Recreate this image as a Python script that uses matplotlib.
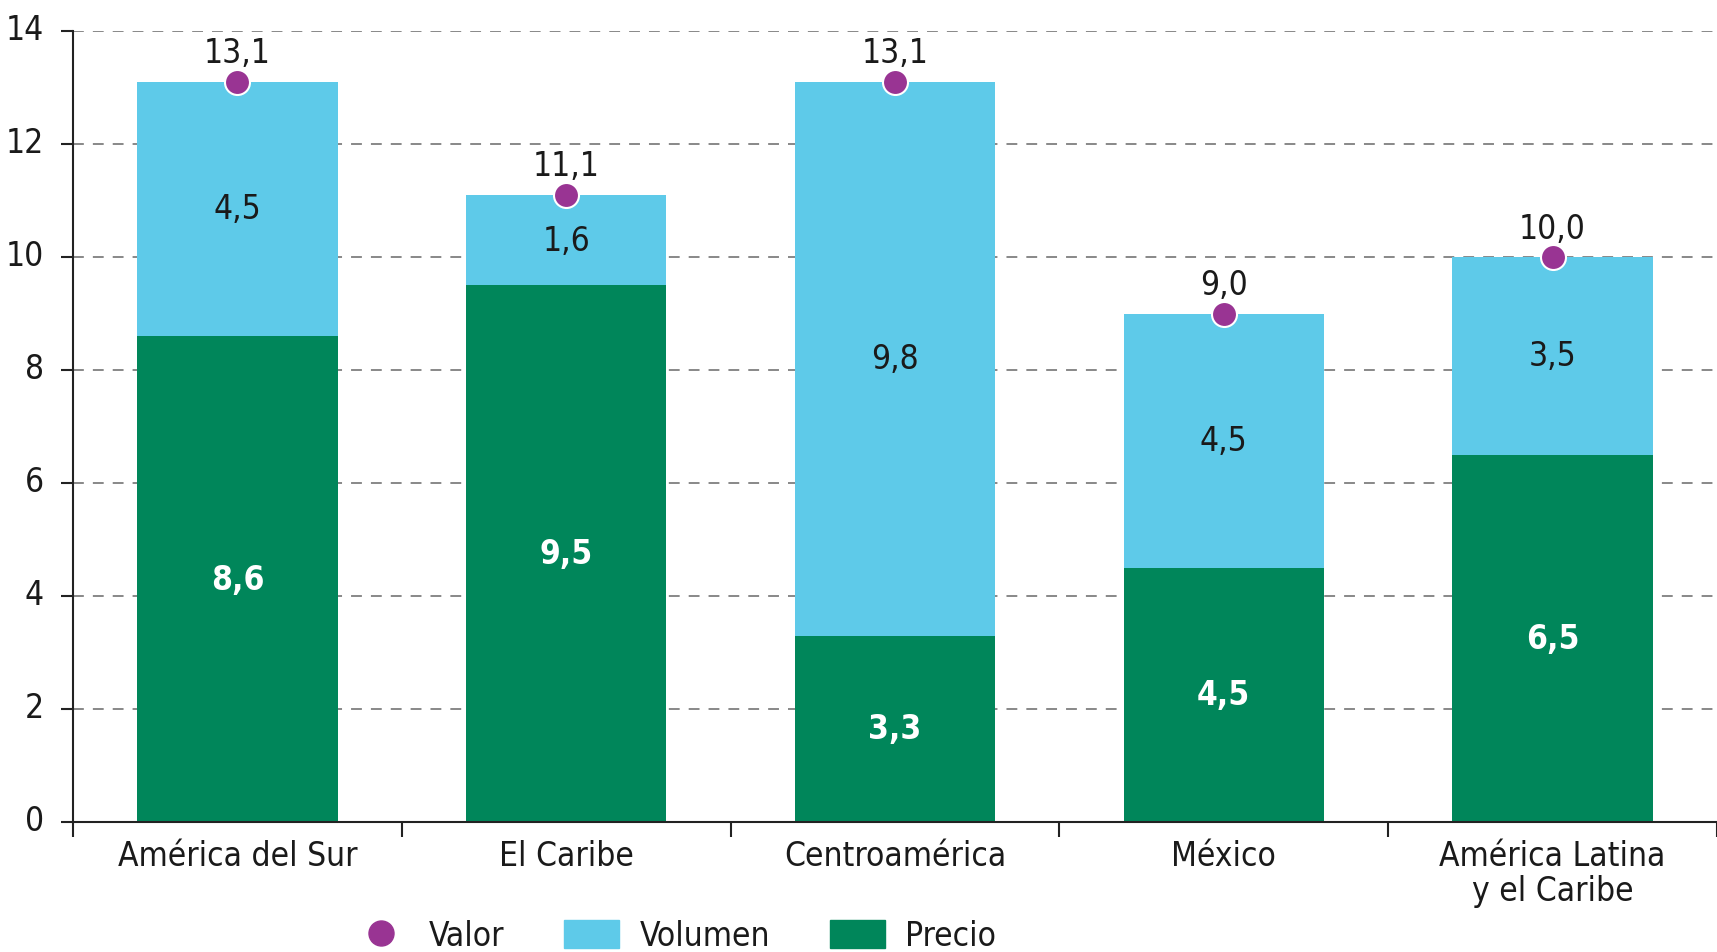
import numpy as np
import matplotlib.pyplot as plt
from matplotlib.patches import Patch
from matplotlib.lines import Line2D
from matplotlib.transforms import ScaledTranslation

plt.rcParams['font.family'] = ['DejaVu Sans']
plt.rcParams['font.stretch'] = 'condensed'

# Data
categorias = ['América del Sur', 'El Caribe', 'Centroamérica', 'México', 'América Latina\ny el Caribe']
precio = [8.6, 9.5, 3.3, 4.5, 6.5]
volumen = [4.5, 1.6, 9.8, 4.5, 3.5]
valor = [13.1, 11.1, 13.1, 9.0, 10.0]

c_precio = '#00865a'
c_volumen = '#5ecae9'
c_valor = '#993493'
c_text = '#1a1a1a'

def fmt(v):
	return ('%.1f' % v).replace('.', ',')

fig = plt.figure(figsize=(17.17, 9.53), dpi=100)
ax = fig.add_axes([0.0425, 0.1364, 0.9575, 0.83])

x = np.arange(len(categorias))
w = 0.61
ax.bar(x, precio, w, color=c_precio, zorder=2)
ax.bar(x, volumen, w, bottom=precio, color=c_volumen, zorder=2)
ax.plot(x, valor, 'o', color=c_valor, markersize=18, markeredgecolor='white',
	markeredgewidth=1.5, linestyle='none', zorder=4, clip_on=False)

for i in range(len(categorias)):
	ax.text(x[i], precio[i] / 2, fmt(precio[i]), ha='center', va='center',
		color='white', fontsize=24, fontweight='bold', zorder=5)
	ax.text(x[i], precio[i] + volumen[i] / 2, fmt(volumen[i]), ha='center', va='center',
		color=c_text, fontsize=24, zorder=5)
	ax.annotate(fmt(valor[i]), (x[i], valor[i]), xytext=(0, 9), textcoords='offset points',
		ha='center', va='bottom', color=c_text, fontsize=24, zorder=5)

ax.set_xlim(-0.5, len(categorias) - 0.5)
ax.set_ylim(0, 14)
ax.set_yticks(np.arange(0, 15, 2))
ax.yaxis.grid(True, linestyle=(0, (6, 5)), color='#7f7f7f', linewidth=1.3, zorder=0)
ax.set_axisbelow(True)

ax.set_xticks(x)
ax.set_xticklabels(categorias, fontsize=24, color=c_text, linespacing=1.1)
ax.set_xticks(np.arange(-0.5, len(categorias), 1), minor=True)
ax.tick_params(axis='x', which='major', length=0, pad=12)
ax.tick_params(axis='x', which='minor', length=11, width=1.5, color='#222222', direction='out')
ax.tick_params(axis='y', labelsize=24, labelcolor=c_text, length=9, width=1.5, color='#222222', pad=12)
# y labels sit a little above their ticks in the original
for lab in ax.get_yticklabels():
	lab.set_transform(lab.get_transform() + ScaledTranslation(0, 3.5 / 72, fig.dpi_scale_trans))

for s in ['top', 'right']:
	ax.spines[s].set_visible(False)
for s in ['left', 'bottom']:
	ax.spines[s].set_linewidth(1.5)
	ax.spines[s].set_color('#222222')

handles = [
	Line2D([], [], marker='o', color=c_valor, markersize=18, linestyle='none'),
	Patch(color=c_volumen),
	Patch(color=c_precio),
]
fig.legend(handles, ['Valor', 'Volumen', 'Precio'], loc='center', bbox_to_anchor=(0.393, 0.017),
	ncol=3, frameon=False, fontsize=24, handlelength=1.65, handleheight=0.9,
	columnspacing=1.8, handletextpad=0.6, labelcolor=c_text)

fig.savefig('out.png', dpi=100)
